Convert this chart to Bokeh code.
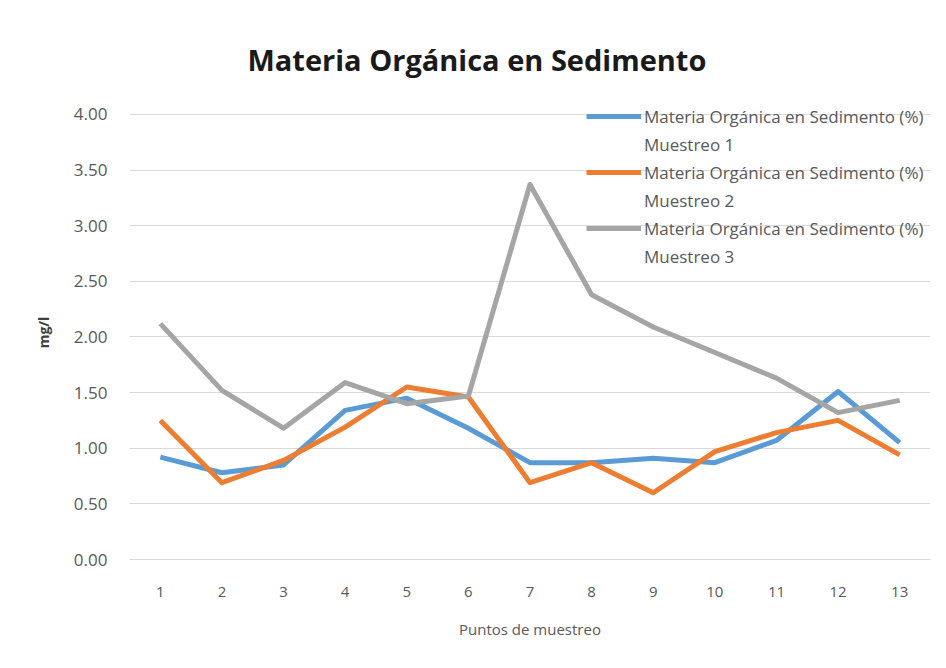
from bokeh.plotting import figure
from bokeh.models import (ColumnDataSource, Legend, LegendItem, NumeralTickFormatter,
                          SingleIntervalTicker, Range1d, FactorRange)
from bokeh.embed import file_html
from bokeh.resources import INLINE

puntos = [str(i) for i in range(1, 14)]
muestreo1 = [0.92, 0.78, 0.85, 1.34, 1.45, 1.18, 0.87, 0.87, 0.91, 0.87, 1.07, 1.51, 1.05]
muestreo2 = [1.25, 0.69, 0.89, 1.19, 1.55, 1.46, 0.69, 0.87, 0.60, 0.97, 1.14, 1.25, 0.94]
muestreo3 = [2.12, 1.52, 1.18, 1.59, 1.40, 1.47, 3.37, 2.38, 2.09, 1.86, 1.63, 1.32, 1.43]
series_label = "Materia Orgánica en Sedimento (%)"
sub_labels = ["Muestreo 1", "Muestreo 2", "Muestreo 3"]
colors = ["#5B9BD5", "#ED7D31", "#A5A5A5"]

FONT = "Open Sans"
TXT = "#595959"

p = figure(width=938, height=648, x_range=FactorRange(*puntos), y_range=Range1d(0, 4.08),
           output_backend="svg", toolbar_location=None,
           min_border_left=129, min_border_right=8, min_border_top=105, min_border_bottom=89)
p.outline_line_color = None
p.background_fill_color = "white"
p.border_fill_color = "white"

p.title.text = "Materia Orgánica en Sedimento"
p.title.align = "left"
p.title.offset = 118
p.title.text_font = FONT
p.title.text_font_size = "29px"
p.title.text_font_style = "bold"
p.title.text_color = "#1a1a1a"
p.title.standoff = 53

src = ColumnDataSource(dict(x=puntos, m1=muestreo1, m2=muestreo2, m3=muestreo3))
renderers = []
for key, c in zip(["m1", "m2", "m3"], colors):
    r = p.line("x", key, source=src, line_color=c, line_width=5, line_join="round")
    renderers.append(r)

dummy = p.line(x=[], y=[], line_alpha=0)

items = []
for r, sub in zip(renderers, sub_labels):
    items.append(LegendItem(label=series_label, renderers=[r]))
    items.append(LegendItem(label=sub, renderers=[dummy]))

legend = Legend(items=items, location=(457, 289), orientation="vertical",
                background_fill_alpha=0, border_line_alpha=0, padding=0, spacing=0, margin=0,
                label_height=28, glyph_height=28, glyph_width=55, label_standoff=3,
                label_text_font=FONT, label_text_font_size="17px", label_text_color=TXT)
p.add_layout(legend)

p.yaxis.ticker = SingleIntervalTicker(interval=0.5)
p.yaxis.formatter = NumeralTickFormatter(format="0.00")
p.yaxis.axis_line_color = None
p.yaxis.major_tick_line_color = None
p.yaxis.minor_tick_line_color = None
p.yaxis.major_tick_out = 0
p.yaxis.major_label_standoff = 18
p.yaxis.major_label_text_font = FONT
p.yaxis.major_label_text_font_size = "17px"
p.yaxis.major_label_text_color = TXT
p.yaxis.axis_label = "mg/l"
p.yaxis.axis_label_text_font = FONT
p.yaxis.axis_label_text_font_size = "14px"
p.yaxis.axis_label_text_font_style = "bold"
p.yaxis.axis_label_text_color = "#404040"
p.yaxis.axis_label_standoff = 18

p.xaxis.axis_line_color = "#D9D9D9"
p.xaxis.major_tick_line_color = None
p.xaxis.major_tick_out = 0
p.xaxis.major_label_standoff = 27
p.xaxis.major_label_text_font = FONT
p.xaxis.major_label_text_font_size = "15px"
p.xaxis.major_label_text_color = TXT
p.xaxis.axis_label = "Puntos de muestreo"
p.xaxis.axis_label_text_font = FONT
p.xaxis.axis_label_text_font_size = "15px"
p.xaxis.axis_label_text_font_style = "normal"
p.xaxis.axis_label_text_color = TXT
p.xaxis.axis_label_standoff = 19

p.xgrid.grid_line_color = None
p.ygrid.grid_line_color = "#D9D9D9"
p.ygrid.grid_line_width = 1

open("out.html", "w").write(file_html(p, INLINE))
